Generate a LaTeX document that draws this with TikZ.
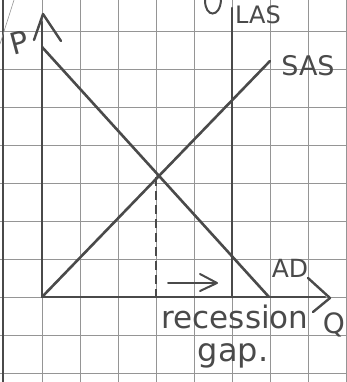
\documentclass[tikz,border=0pt]{standalone}
\usepackage{fontspec}
\setmainfont{DejaVu Sans}
\definecolor{gridc}{HTML}{959595}
\definecolor{ink}{HTML}{4A4A4A}
\begin{document}
\begin{tikzpicture}[x=1pt,y=-1pt,
  gridline/.style={draw=gridc,line width=0.9pt},
  curve/.style={draw=ink,line width=2.6pt,line cap=round},
  axis/.style={draw=ink,line width=2.4pt,line cap=round,line join=round},
  lbl/.style={text=ink,inner sep=0pt,font=\fontsize{18}{18}\selectfont}]
\useasboundingbox (0,0) rectangle (346,382);
\fill[white] (0,0) rectangle (346,382);
% grid
\foreach \x in {42,80,...,346} \draw[gridline] (\x,0) -- (\x,382);
\foreach \y in {31,69,...,382} \draw[gridline] (0,\y) -- (346,\y);
\draw[draw=ink,line width=2pt] (3,0) -- (3,382);
\draw[draw=gridc,line width=0.6pt] (0,44) -- (14,0);
% coordinates
\coordinate (O) at (42,297);
\coordinate (ptop) at (42,22);
\coordinate (qend) at (325,297);
\coordinate (lastop) at (232,8);
\coordinate (lasbot) at (232,297);
\coordinate (sastop) at (270,61);
\coordinate (adtop) at (42,47);
\coordinate (adbot) at (269,297);
\coordinate (eq) at (156,177);
\coordinate (eqbot) at (156,297);
\coordinate (arrA) at (168,283);
\coordinate (arrB) at (216,283);
% axes
\draw[axis] (O) -- (ptop);
\draw[axis] (O) -- (qend);
\draw[axis] (34,40) -- (43,14) -- (61,41);
\draw[axis] (308,278) -- (330,298) -- (313,312);
% curves
\draw[curve] (lastop) -- (lasbot);
\draw[curve] (O) -- (sastop);
\draw[curve] (adtop) -- (adbot);
\draw[draw=ink,line width=2pt,dashed,dash pattern=on 9pt off 5pt] (eq) -- (eqbot);
\draw[draw=ink,line width=2pt,line cap=round] (arrA) -- (arrB);
\draw[draw=ink,line width=2pt,line cap=round,line join=round] (200,274) -- (217,283) -- (200,291);
% top U
\draw[draw=ink,line width=2pt] (205,0) .. controls (205,18) and (220,18) .. (221,0);
% labels
\node[lbl,rotate=15] (P) at (19,43) {\fontsize{30}{30}\selectfont P};
\node[lbl] (LAS) at (258,15) {\fontsize{24}{24}\selectfont LAS};
\node[lbl] (SAS) at (308,66) {\fontsize{27}{27}\selectfont SAS};
\node[lbl] (AD) at (290,268) {\fontsize{25}{25}\selectfont AD};
\node[lbl] (rec) at (235,317) {\fontsize{31}{31}\selectfont recession};
\node[lbl] (Q) at (334,325) {\fontsize{28}{28}\selectfont Q};
\node[lbl] (gap) at (233,356) {\fontsize{32}{32}\selectfont gap.};
\end{tikzpicture}
\end{document}
